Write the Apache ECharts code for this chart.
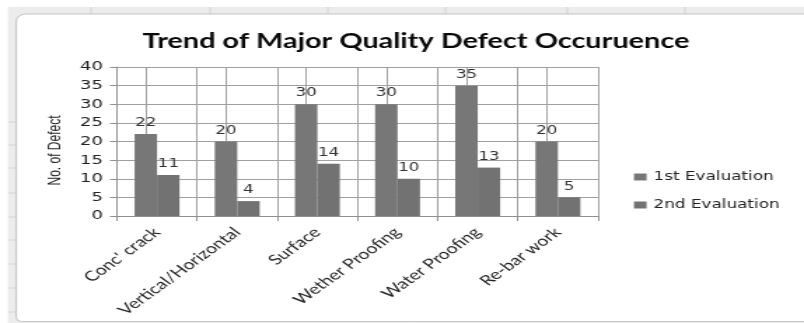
<!DOCTYPE html>
<html>
<head>
<meta charset="utf-8">
<script src="https://cdn.jsdelivr.net/npm/echarts@6/dist/echarts.min.js"></script>
<style>
  html, body { margin: 0; padding: 0; background: #ffffff; overflow: hidden; }
  /* The chart is laid out narrow and stretched sideways to the full 804px page width */
  #chart { width: 574px; height: 323px; transform: scaleX(1.40070); transform-origin: 0 0; }
</style>
</head>
<body>
<div id="chart"></div>
<script>
// Defect categories and the counts found in each evaluation round
const categories = ["Conc' crack", "Vertical/Horizontal", "Surface", "Wether Proofing", "Water Proofing", "Re-bar work"];
const firstEvaluation = [22, 20, 30, 30, 35, 20];
const secondEvaluation = [11, 4, 14, 10, 13, 5];
const seriesNames = ["1st Evaluation", "2nd Evaluation"];
const chartTitle = "Trend of Major Quality Defect Occuruence";
const yAxisTitle = "No. of Defect";

const numFont = "DejaVu Sans";
const gridColor = '#a0a0a0';
const chart = echarts.init(document.getElementById('chart'), null, { renderer: 'canvas' });

// Light spreadsheet frame behind the chart card
const frame = [
  { type: 'rect', shape: { x: 5.7, y: 7, width: 580, height: 320 }, style: { fill: '#ececec' }, z: -10 },
];
[65, 150, 234, 318, 405, 489].forEach(function (x) {
  frame.push({ type: 'line', shape: { x1: x, y1: 7, x2: x, y2: 14 }, style: { stroke: '#d4d4d4', lineWidth: 1 }, z: -9 });
});
[122, 145, 168, 193, 217, 240, 264, 288, 312].forEach(function (y) {
  frame.push({ type: 'line', shape: { x1: 5.7, y1: y, x2: 11.4, y2: y }, style: { stroke: '#d4d4d4', lineWidth: 1 }, z: -9 });
});
frame.push({
  type: 'rect',
  shape: { x: 11.6, y: 14, width: 575, height: 307.5, r: [7, 4, 4, 4] },
  style: { fill: '#ffffff', stroke: '#c4c4c4', lineWidth: 1 },
  z: -8
});

const labelStyle = { show: true, position: 'top', distance: 5, fontFamily: numFont, fontSize: 12, color: '#333333' };

chart.setOption({
  animation: false,
  backgroundColor: '#ffffff',
  graphic: frame,
  title: {
    text: chartTitle,
    left: 292,
    textAlign: 'center',
    top: 26,
    textStyle: { fontFamily: 'Lato', fontWeight: 'bold', fontSize: 20.6, color: '#0a0a0a' }
  },
  legend: {
    orient: 'vertical',
    left: 452.6,
    top: 171,
    padding: 0,
    itemWidth: 9,
    itemHeight: 7,
    itemGap: 16,
    icon: 'rect',
    data: seriesNames,
    textStyle: { fontFamily: numFont, fontSize: 12, color: '#222222' }
  },
  grid: { left: 83.5, right: 147.1, top: 67, bottom: 107, containLabel: false },
  xAxis: {
    type: 'category',
    data: categories,
    boundaryGap: true,
    axisLine: { show: true, lineStyle: { color: '#909090', width: 1 } },
    axisTick: { show: true, length: 5, alignWithLabel: false, lineStyle: { color: '#909090' } },
    splitLine: { show: true, interval: 0, lineStyle: { color: gridColor, width: 1 } },
    axisLabel: {
      rotate: 45,
      margin: 14,
      interval: 0,
      fontFamily: 'Lato',
      fontSize: 14,
      color: '#222222'
    }
  },
  yAxis: {
    type: 'value',
    min: 0,
    max: 40,
    interval: 5,
    name: yAxisTitle,
    nameLocation: 'middle',
    nameRotate: 90,
    nameGap: 36,
    nameTextStyle: { fontFamily: 'Liberation Sans', fontSize: 12, color: '#222222', padding: [0, 18, 0, 0] },
    axisLine: { show: true, lineStyle: { color: '#909090', width: 1 } },
    axisTick: { show: true, length: 5, lineStyle: { color: '#909090' } },
    splitLine: { show: true, lineStyle: { color: gridColor, width: 1 } },
    axisLabel: { margin: 10, fontFamily: numFont, fontSize: 13, color: '#222222' }
  },
  series: [
    {
      name: seriesNames[0],
      type: 'bar',
      data: firstEvaluation,
      barGap: '0%',
      barCategoryGap: '44%',
      itemStyle: { color: '#777777' },
      label: labelStyle,
      // vertical grid line through the middle of each category, kept behind the bars
      markLine: {
        silent: true,
        z: 1,
        symbol: ['none', 'none'],
        label: { show: false },
        lineStyle: { type: 'solid', color: gridColor, width: 1 },
        data: categories.map(function (c) { return { xAxis: c }; })
      }
    },
    {
      name: seriesNames[1],
      type: 'bar',
      data: secondEvaluation,
      barGap: '0%',
      barCategoryGap: '44%',
      itemStyle: { color: '#727272' },
      label: labelStyle
    }
  ]
});
</script>
</body>
</html>
